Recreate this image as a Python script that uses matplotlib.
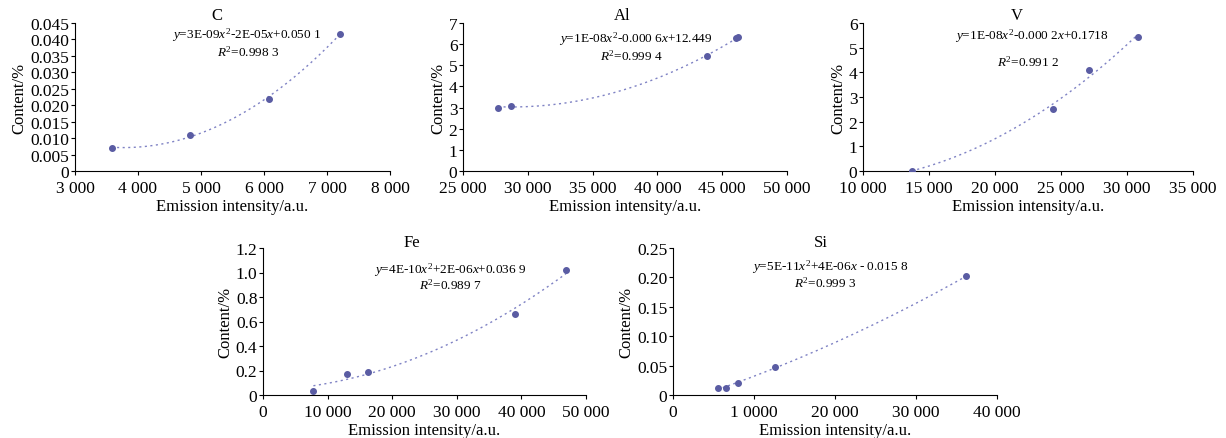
import matplotlib.pyplot as plt
import numpy as np

plt.rcParams['font.family'] = ['Liberation Serif', 'DejaVu Serif']
plt.rcParams['mathtext.fontset'] = 'custom'
plt.rcParams['mathtext.rm'] = 'Liberation Serif'
plt.rcParams['mathtext.it'] = 'Liberation Serif:italic'

# data
c_x = [3580, 4820, 6080, 7200]
c_y = [0.007, 0.011, 0.022, 0.0417]
al_x = [27700, 28700, 43800, 46100, 46200]
al_y = [3.0, 3.07, 5.45, 6.27, 6.32]
v_x = [13700, 24400, 27100, 30800]
v_y = [0.02, 2.5, 4.1, 5.42]
fe_x = [7800, 13000, 16300, 39000, 46900]
fe_y = [0.035, 0.17, 0.19, 0.66, 1.02]
si_x = [5500, 6500, 8000, 12600, 36200]
si_y = [0.012, 0.012, 0.02, 0.047, 0.202]

c_xticks = [3000, 4000, 5000, 6000, 7000, 8000]
c_xlabels = ['3 000', '4 000', '5 000', '6 000', '7 000', '8 000']
c_yticks = [0, 0.005, 0.010, 0.015, 0.020, 0.025, 0.030, 0.035, 0.040, 0.045]
c_ylabels = ['0', '0.005', '0.010', '0.015', '0.020', '0.025', '0.030', '0.035', '0.040', '0.045']

al_xticks = [25000, 30000, 35000, 40000, 45000, 50000]
al_xlabels = ['25 000', '30 000', '35 000', '40 000', '45 000', '50 000']
al_yticks = [0, 1, 2, 3, 4, 5, 6, 7]
al_ylabels = ['0', '1', '2', '3', '4', '5', '6', '7']

v_xticks = [10000, 15000, 20000, 25000, 30000, 35000]
v_xlabels = ['10 000', '15 000', '20 000', '25 000', '30 000', '35 000']
v_yticks = [0, 1, 2, 3, 4, 5, 6]
v_ylabels = ['0', '1', '2', '3', '4', '5', '6']

fe_xticks = [0, 10000, 20000, 30000, 40000, 50000]
fe_xlabels = ['0', '10 000', '20 000', '30 000', '40 000', '50 000']
fe_yticks = [0, 0.2, 0.4, 0.6, 0.8, 1.0, 1.2]
fe_ylabels = ['0', '0.2', '0.4', '0.6', '0.8', '1.0', '1.2']

si_xticks = [0, 10000, 20000, 30000, 40000]
si_xlabels = ['0', '1 0000', '20 000', '30 000', '40 000']
si_yticks = [0, 0.05, 0.10, 0.15, 0.20, 0.25]
si_ylabels = ['0', '0.05', '0.10', '0.15', '0.20', '0.25']

W, H = 1226, 439
fig = plt.figure(figsize=(W / 100, H / 100), dpi=100)

pt_color = '#5a5ca3'
line_color = '#7f82c4'


def panel(box, xs, ys, xt, xl, yt, yl, title, tpos, eq, epos, r2, rpos):
    left, right, top, bottom = box
    ax = fig.add_axes([left / W, 1 - bottom / H, (right - left) / W, (bottom - top) / H])
    coef = np.polyfit(xs, ys, 2)
    xx = np.linspace(min(xs), max(xs), 200)
    ax.plot(xx, np.polyval(coef, xx), linestyle=(0, (1.5, 2.5)), color=line_color, linewidth=1.0)
    ax.scatter(xs, ys, s=16, color=pt_color, zorder=3)
    ax.set_xlim(xt[0], xt[-1])
    ax.set_ylim(yt[0], yt[-1])
    ax.set_xticks(xt, xl)
    ax.set_yticks(yt, yl)
    for s in ['top', 'right']:
        ax.spines[s].set_visible(False)
    ax.tick_params(labelsize=12.5, length=3, width=0.8)
    ax.tick_params(axis='x', pad=3.5)
    ax.tick_params(axis='y', pad=1)
    ax.set_xlabel('Emission intensity/a.u.', fontsize=12, labelpad=1.5)
    ax.set_ylabel('Content/%', fontsize=12, labelpad=2)
    ax.text(tpos[0], tpos[1], title, transform=ax.transAxes, ha='center', va='center', fontsize=12)
    ax.text(epos[0], epos[1], eq, transform=ax.transAxes, ha='center', va='center', fontsize=9.5)
    ax.text(rpos[0], rpos[1], r2, transform=ax.transAxes, ha='center', va='center', fontsize=9.5)
    return ax


panel((75, 390, 24, 172), c_x, c_y, c_xticks, c_xlabels, c_yticks, c_ylabels,
      'C', (0.45, 1.054),
      r'$\it{y}$=3E-09$\it{x}^2$-2E-05$\it{x}$+0.050 1', (0.546, 0.926),
      r'$\it{R}^2$=0.998 3', (0.55, 0.81))
panel((463, 787, 24, 172), al_x, al_y, al_xticks, al_xlabels, al_yticks, al_ylabels,
      'Al', (0.49, 1.054),
      r'$\it{y}$=1E-08$\it{x}^2$-0.000 6$\it{x}$+12.449', (0.534, 0.9),
      r'$\it{R}^2$=0.999 4', (0.52, 0.78))
panel((863, 1193, 24, 172), v_x, v_y, v_xticks, v_xlabels, v_yticks, v_ylabels,
      'V', (0.467, 1.054),
      r'$\it{y}$=1E-08$\it{x}^2$-0.000 2$\it{x}$+0.1718', (0.512, 0.92),
      r'$\it{R}^2$=0.991 2', (0.5, 0.74))
panel((263, 586, 249, 396), fe_x, fe_y, fe_xticks, fe_xlabels, fe_yticks, fe_ylabels,
      'Fe', (0.46, 1.04),
      r'$\it{y}$=4E-10$\it{x}^2$+2E-06$\it{x}$+0.036 9', (0.58, 0.857),
      r'$\it{R}^2$=0.989 7', (0.58, 0.75))
panel((673, 997, 249, 396), si_x, si_y, si_xticks, si_xlabels, si_yticks, si_ylabels,
      'Si', (0.457, 1.04),
      r'$\it{y}$=5E-11$\it{x}^2$+4E-06$\it{x}$ - 0.015 8', (0.485, 0.878),
      r'$\it{R}^2$=0.999 3', (0.47, 0.77))

fig.savefig('out.png', dpi=100)
